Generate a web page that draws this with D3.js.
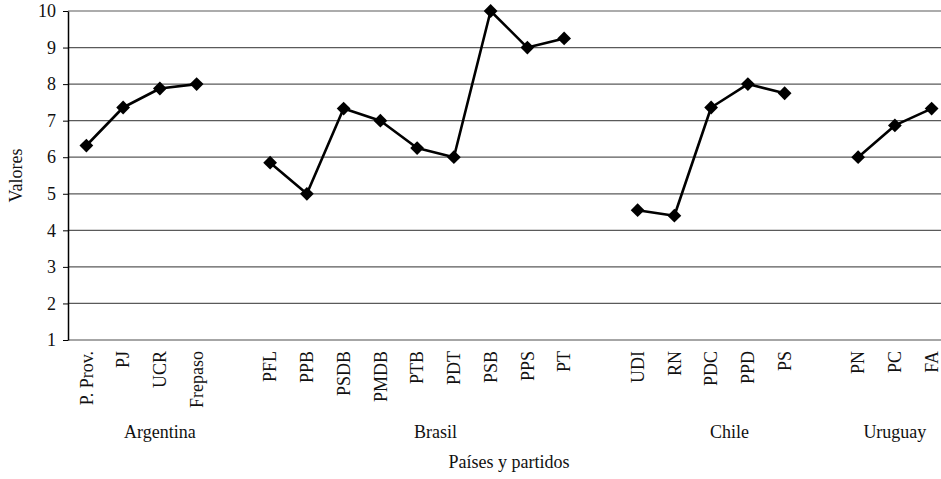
<!DOCTYPE html>
<html>
<head>
<meta charset="utf-8">
<script src="https://cdn.jsdelivr.net/npm/d3@7"></script>
<style>
  body { margin: 0; background: #fff; }
  svg { display: block; font-family: "Liberation Serif", "DejaVu Serif", serif; }
</style>
</head>
<body>
<div id="chart"></div>
<script>
// Data
const countries = ["Argentina", "Brasil", "Chile", "Uruguay"];
const parties = [
  "P. Prov.", "PJ", "UCR", "Frepaso",
  "PFL", "PPB", "PSDB", "PMDB", "PTB", "PDT", "PSB", "PPS", "PT",
  "UDI", "RN", "PDC", "PPD", "PS",
  "PN", "PC", "FA"
];
const partyCountry = [
  "Argentina", "Argentina", "Argentina", "Argentina",
  "Brasil", "Brasil", "Brasil", "Brasil", "Brasil", "Brasil", "Brasil", "Brasil", "Brasil",
  "Chile", "Chile", "Chile", "Chile", "Chile",
  "Uruguay", "Uruguay", "Uruguay"
];
const values = [
  6.32, 7.36, 7.88, 8,
  5.85, 5, 7.33, 7, 6.25, 6, 10, 9, 9.25,
  4.55, 4.4, 7.36, 8, 7.75,
  6, 6.87, 7.33
];
const yTicks = [1, 2, 3, 4, 5, 6, 7, 8, 9, 10];

// Dimensions
const width = 941;
const height = 479;
const plot = { left: 68, right: 950, top: 11, bottom: 340 };

// Category slots, with one empty slot after every country but the last
const slots = [];
countries.forEach((c, i) => {
  parties.forEach((p, j) => { if (partyCountry[j] === c) slots.push(p); });
  if (i < countries.length - 1) slots.push("gap-" + i);
});

const rows = parties.map((p, i) => ({ party: p, country: partyCountry[i], value: values[i] }));

const svg = d3.select("#chart")
  .append("svg")
  .attr("width", width)
  .attr("height", height);

// Scales
const xScale = d3.scaleBand()
  .domain(slots)
  .range([plot.left, plot.right])
  .padding(0);

const yScale = d3.scaleLinear()
  .domain([1, 10])
  .range([plot.bottom, plot.top]);

const xc = (p) => xScale(p) + xScale.bandwidth() / 2;

// Gridlines
svg.append("g")
  .selectAll("line")
  .data(yTicks.filter((t) => t > 1))
  .join("line")
  .attr("x1", plot.left)
  .attr("x2", plot.right)
  .attr("y1", (d) => yScale(d))
  .attr("y2", (d) => yScale(d))
  .attr("stroke", "#5a5a5a")
  .attr("stroke-width", 1.2);

// Category axis line
svg.append("line")
  .attr("x1", plot.left)
  .attr("x2", plot.right)
  .attr("y1", yScale(1))
  .attr("y2", yScale(1))
  .attr("stroke", "#a6a6a6")
  .attr("stroke-width", 2);

// Y axis
const yAxis = d3.axisLeft(yScale)
  .tickValues(yTicks)
  .tickFormat(d3.format("d"))
  .tickSize(5)
  .tickSizeOuter(0)
  .tickPadding(7);

const yAxisGroup = svg.append("g")
  .attr("transform", `translate(${plot.left},0)`)
  .call(yAxis);
yAxisGroup.select(".domain").attr("stroke", "#000").attr("stroke-width", 1.5);
yAxisGroup.selectAll(".tick line").attr("stroke", "#000");
yAxisGroup.selectAll(".tick text")
  .attr("fill", "#111")
  .style("font-family", "'Liberation Serif', serif")
  .style("font-size", "18px");

svg.append("text")
  .attr("transform", `translate(${22},${(plot.top + plot.bottom) / 2}) rotate(-90)`)
  .attr("text-anchor", "middle")
  .attr("fill", "#111")
  .style("font-size", "18px")
  .text("Valores");

// Party labels
svg.append("g")
  .selectAll("text")
  .data(parties)
  .join("text")
  .attr("transform", (d) => `translate(${xc(d)},${plot.bottom + 11}) rotate(-90)`)
  .attr("dy", "0.35em")
  .attr("text-anchor", "end")
  .attr("fill", "#111")
  .style("font-size", "18px")
  .text((d) => d);

// Country labels, centred on each country's span including its trailing empty slot
svg.append("g")
  .selectAll("text")
  .data(countries)
  .join("text")
  .attr("x", (c, i) => {
    const first = parties[partyCountry.indexOf(c)];
    const start = xScale(first);
    const end = i < countries.length - 1
      ? xScale(parties[partyCountry.indexOf(countries[i + 1])])
      : plot.right;
    return (start + end) / 2;
  })
  .attr("y", 438)
  .attr("text-anchor", "middle")
  .attr("fill", "#111")
  .style("font-size", "18px")
  .text((d) => d);

svg.append("text")
  .attr("x", (plot.left + plot.right) / 2)
  .attr("y", 468)
  .attr("text-anchor", "middle")
  .attr("fill", "#111")
  .style("font-size", "18px")
  .text("Países y partidos");

// Lines, one per country
const line = d3.line()
  .x((d) => xc(d.party))
  .y((d) => yScale(d.value));

svg.append("g")
  .selectAll("path")
  .data(d3.groups(rows, (d) => d.country))
  .join("path")
  .attr("d", ([, g]) => line(g))
  .attr("fill", "none")
  .attr("stroke", "#000")
  .attr("stroke-width", 2.6)
  .attr("stroke-linejoin", "round");

// Diamond markers
const diamond = d3.symbol(d3.symbolSquare, 95);
svg.append("g")
  .selectAll("path")
  .data(rows)
  .join("path")
  .attr("d", diamond)
  .attr("transform", (d) => `translate(${xc(d.party)},${yScale(d.value)}) rotate(45)`)
  .attr("fill", "#000");
</script>
</body>
</html>
